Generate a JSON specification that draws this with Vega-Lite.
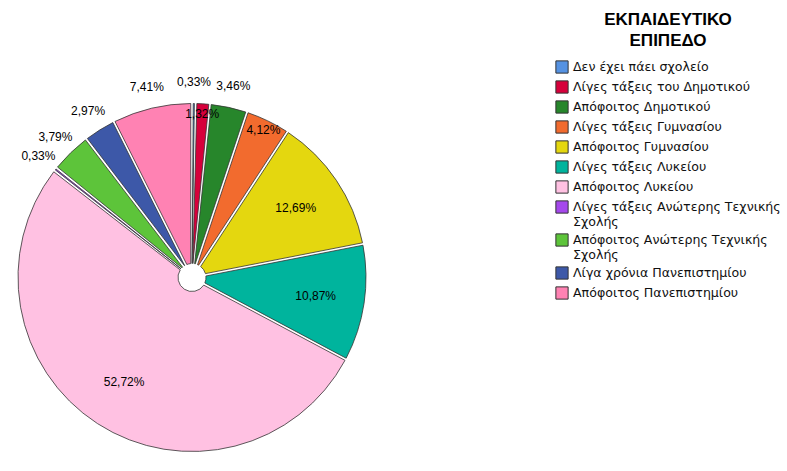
{
  "$schema": "https://vega.github.io/schema/vega-lite/v6.json",
  "width": 384,
  "height": 471,
  "padding": 0,
  "background": "white",
  "config": {
    "view": {"stroke": null},
    "locale": {"number": {"decimal": ",", "thousands": ".", "grouping": [3], "currency": ["", " €"]}}
  },
  "data": {
    "values": [
      {"i": 1, "cat": "Δεν έχει πάει σχολείο", "v": 0.0033},
      {"i": 2, "cat": "Λίγες τάξεις του Δημοτικού", "v": 0.0132},
      {"i": 3, "cat": "Απόφοιτος Δημοτικού", "v": 0.0346},
      {"i": 4, "cat": "Λίγες τάξεις Γυμνασίου", "v": 0.0412},
      {"i": 5, "cat": "Απόφοιτος Γυμνασίου", "v": 0.1269},
      {"i": 6, "cat": "Λίγες τάξεις Λυκείου", "v": 0.1087},
      {"i": 7, "cat": "Απόφοιτος Λυκείου", "v": 0.5272},
      {"i": 8, "cat": "Λίγες τάξεις Ανώτερης Τεχνικής Σχολής", "v": 0.0033},
      {"i": 9, "cat": "Απόφοιτος Ανώτερης Τεχνικής Σχολής", "v": 0.0379},
      {"i": 10, "cat": "Λίγα χρόνια Πανεπιστημίου", "v": 0.0297},
      {"i": 11, "cat": "Απόφοιτος Πανεπιστημίου", "v": 0.0741}
    ]
  },
  "encoding": {
    "theta": {"field": "v", "type": "quantitative", "stack": true},
    "order": {"field": "i", "type": "quantitative"},
    "color": {
      "field": "cat",
      "type": "nominal",
      "sort": null,
      "scale": {
        "domain": ["Δεν έχει πάει σχολείο", "Λίγες τάξεις του Δημοτικού", "Απόφοιτος Δημοτικού", "Λίγες τάξεις Γυμνασίου", "Απόφοιτος Γυμνασίου", "Λίγες τάξεις Λυκείου", "Απόφοιτος Λυκείου", "Λίγες τάξεις Ανώτερης Τεχνικής Σχολής", "Απόφοιτος Ανώτερης Τεχνικής Σχολής", "Λίγα χρόνια Πανεπιστημίου", "Απόφοιτος Πανεπιστημίου"],
        "range": ["#5592e2", "#d6003b", "#27862b", "#f26b2e", "#e4d70f", "#00b49d", "#ffc1e2", "#a548ec", "#5dc43a", "#3d58a8", "#ff82b3"]
      },
      "legend": {
        "orient": "none",
        "legendX": 555,
        "legendY": 12,
        "title": ["ΕΚΠΑΙΔΕΥΤΙΚΟ", "ΕΠΙΠΕΔΟ"],
        "titleFont": "Liberation Sans",
        "titleFontSize": 17,
        "titleFontWeight": "bold",
        "titleColor": "#000000",
        "titleAnchor": "middle",
        "titleLineHeight": 21,
        "titlePadding": 10,
        "symbolType": "square",
        "symbolSize": 150,
        "symbolStrokeColor": "#333333",
        "symbolStrokeWidth": 1,
        "symbolOpacity": 1,
        "labelFont": "DejaVu Sans",
        "labelFontSize": 12.6,
        "labelColor": "#111111",
        "labelLimit": 400,
        "labelOffset": 4,
        "rowPadding": 2,
        "labelExpr": "datum.label == 'Λίγες τάξεις Ανώτερης Τεχνικής Σχολής' ? ['Λίγες τάξεις Ανώτερης Τεχνικής', 'Σχολής'] : datum.label == 'Απόφοιτος Ανώτερης Τεχνικής Σχολής' ? ['Απόφοιτος Ανώτερης Τεχνικής', 'Σχολής'] : datum.label"
      }
    }
  },
  "layer": [
    {
      "mark": {"type": "arc", "outerRadius": 174, "innerRadius": 14, "padAngle": 0.014, "stroke": "#333333", "strokeWidth": 0.8, "y": {"expr": "height/2 + 42"}}
    },
    {
      "mark": {"type": "text", "radius": 125, "font": "Liberation Sans", "fontSize": 12, "y": {"expr": "height/2 + 42"}},
      "encoding": {
        "color": {"value": "#000000"},
        "text": {"condition": {"test": "datum.i == 5 || datum.i == 6 || datum.i == 7", "field": "v", "type": "quantitative", "format": ".2%"}, "value": ""}
      }
    },
    {
      "mark": {"type": "text", "radius": 164, "font": "Liberation Sans", "fontSize": 12, "y": {"expr": "height/2 + 42"}},
      "encoding": {
        "color": {"value": "#000000"},
        "text": {"condition": {"test": "datum.i == 2 || datum.i == 4", "field": "v", "type": "quantitative", "format": ".2%"}, "value": ""}
      }
    },
    {
      "mark": {"type": "text", "radius": 196, "font": "Liberation Sans", "fontSize": 12, "y": {"expr": "height/2 + 42"}},
      "encoding": {
        "color": {"value": "#000000"},
        "text": {"condition": {"test": "datum.i == 1 || datum.i == 3 || datum.i == 8 || datum.i == 9 || datum.i == 10 || datum.i == 11", "field": "v", "type": "quantitative", "format": ".2%"}, "value": ""}
      }
    }
  ]
}
